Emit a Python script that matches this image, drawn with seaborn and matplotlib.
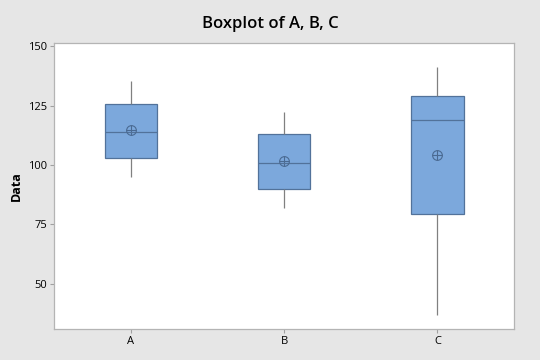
import matplotlib
matplotlib.use("Agg")
import matplotlib.pyplot as plt
import seaborn as sns
import pandas as pd

# values (each set reproduces the box, whiskers and mean)
a_values = [95.0, 99.0, 102.8, 109.0, 113.9, 121.2, 125.8, 131.0, 135.5]
b_values = [82.0, 86.0, 89.8, 95.5, 100.9, 106.5, 112.9, 117.7, 122.2]
c_values = [37.1, 60.0, 79.4, 108.0, 118.9, 126.0, 128.9, 138.4, 141.1]
groups = ["A", "B", "C"]
y_ticks = [50, 75, 100, 125, 150]

df = pd.DataFrame({
    "group": ["A"] * len(a_values) + ["B"] * len(b_values) + ["C"] * len(c_values),
    "Data": a_values + b_values + c_values,
})

sns.set_style("white")
plt.rcParams["font.family"] = ["Open Sans", "DejaVu Sans"]
plt.rcParams["text.color"] = "black"
plt.rcParams["axes.labelcolor"] = "black"
plt.rcParams["xtick.labelcolor"] = "black"
plt.rcParams["ytick.labelcolor"] = "black"

fig = plt.figure(figsize=(5.4, 3.6), dpi=100, facecolor="#e6e6e6")
ax = fig.add_axes([0.1006, 0.0861, 0.8514, 0.7953])
ax.set_facecolor("white")

box_blue = "#7ca8dc"
edge = "#52729a"
mean_col = "#4a6a92"
sns.boxplot(data=df, x="group", y="Data", order=groups, ax=ax, width=0.34,
            whis=float("inf"), color=box_blue, saturation=1,
            showmeans=True,
            boxprops=dict(facecolor=box_blue, edgecolor=edge, linewidth=0.9),
            medianprops=dict(color=edge, linewidth=0.9),
            whiskerprops=dict(color="#808080", linewidth=0.9),
            capprops=dict(linewidth=0),
            meanprops=dict(marker="o", markersize=7, markerfacecolor="none",
                           markeredgecolor=mean_col, markeredgewidth=0.8))
# cross inside the mean circle
sns.pointplot(data=df, x="group", y="Data", order=groups, ax=ax,
              estimator="mean", errorbar=None, linestyle="none",
              marker="+", markersize=7, markeredgewidth=0.8, color=mean_col)

ax.set_xlim(-0.5, 2.5)
ax.set_ylim(31, 151.5)
ax.set_yticks(y_ticks)
ax.set_xlabel("")
ax.set_ylabel("Data", fontsize=9, fontweight="bold")
ax.tick_params(axis="both", which="major", labelsize=8, length=3,
               color="#a0a0a0", direction="out", left=True, bottom=True, pad=2)
for sp in ax.spines.values():
    sp.set_color("#b4b4b4")
    sp.set_linewidth(0.9)

fig.suptitle("Boxplot of A, B, C", fontsize=12, fontweight="semibold", y=0.955)

fig.savefig("out.png", dpi=100, facecolor=fig.get_facecolor())
